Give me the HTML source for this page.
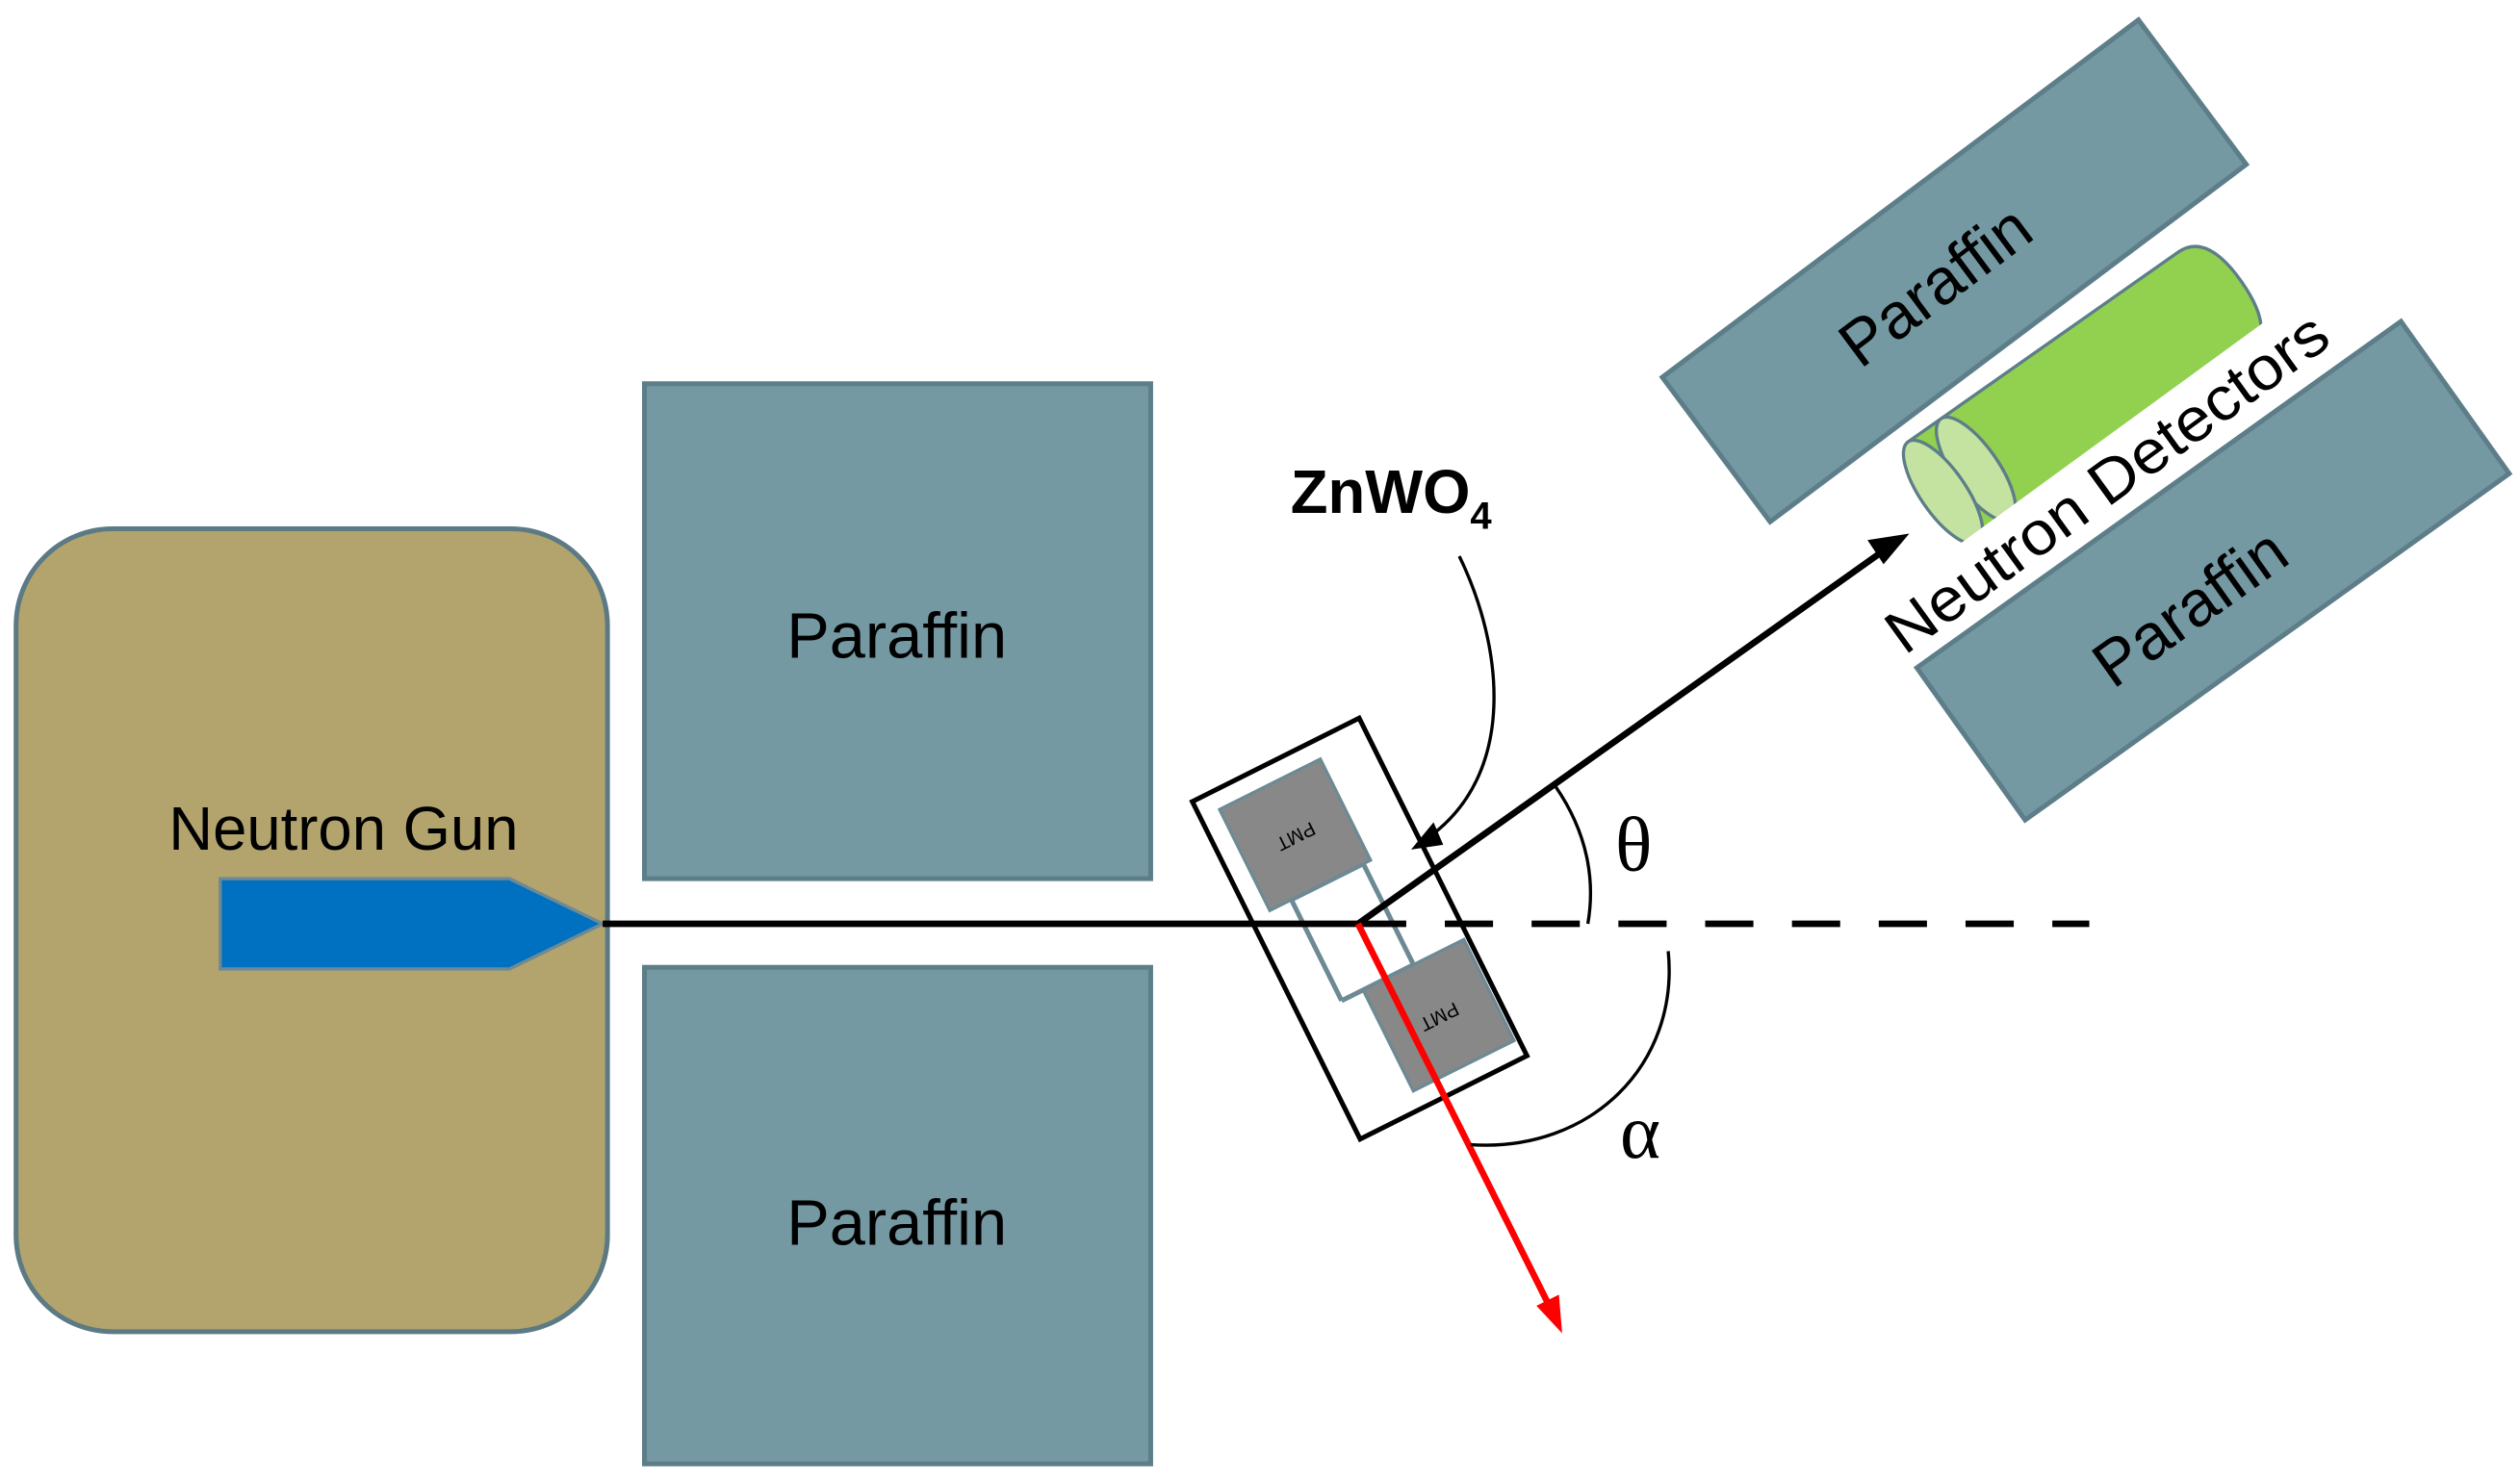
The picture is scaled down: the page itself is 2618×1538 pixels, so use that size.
<!DOCTYPE html>
<html><head><meta charset="utf-8"><style>html,body{margin:0;padding:0;background:#fff}svg{display:block}</style></head><body>
<svg width="2618" height="1538" viewBox="0 0 1568 918" preserveAspectRatio="none" xmlns="http://www.w3.org/2000/svg" font-family="'Liberation Sans', sans-serif">
<rect x="10" y="328" width="368" height="498" rx="60" fill="#b3a46d" stroke="#5b7a84" stroke-width="3"/>
<polygon points="137,545 317,545 375,573 317,601 137,601" fill="#0070c0" stroke="#6d8a94" stroke-width="2"/>
<text x="105" y="527" font-size="38" fill="#000">Neutron Gun</text>
<rect x="401" y="238" width="315" height="307" fill="#7499a3" stroke="#5d7e89" stroke-width="3"/>
<rect x="401" y="600" width="315" height="308" fill="#7499a3" stroke="#5d7e89" stroke-width="3"/>
<text x="558" y="408" font-size="40" text-anchor="middle">Paraffin</text>
<text x="558" y="772" font-size="40" text-anchor="middle">Paraffin</text>
<g transform="translate(846,576) rotate(-26.5)">
<rect x="-58" y="-117" width="116" height="234" fill="#fff" stroke="#000" stroke-width="3"/>
<line x1="-30" y1="-35" x2="-30" y2="35" stroke="#6d8a94" stroke-width="3"/>
<line x1="20" y1="-35" x2="20" y2="35" stroke="#6d8a94" stroke-width="3"/>
<line x1="-30" y1="-35" x2="20" y2="-35" stroke="#6d8a94" stroke-width="3"/>
<line x1="-30" y1="35" x2="20" y2="35" stroke="#6d8a94" stroke-width="3"/>
<rect x="-45" y="-105" width="70" height="70" fill="#888" stroke="#6d8a94" stroke-width="2"/>
<rect x="-15" y="35" width="70" height="70" fill="#888" stroke="#6d8a94" stroke-width="2"/>
<text x="-10" y="-65" font-size="12" text-anchor="middle" transform="rotate(180 -10 -69)">PMT</text>
<text x="20" y="75" font-size="12" text-anchor="middle" transform="rotate(180 20 71)">PMT</text>
</g>
<line x1="375" y1="573" x2="845" y2="573" stroke="#000" stroke-width="4"/>
<line x1="845" y1="573" x2="1300" y2="573" stroke="#000" stroke-width="4" stroke-dasharray="30,24"/>
<line x1="845" y1="573" x2="1170" y2="343" stroke="#000" stroke-width="4"/>
<polygon points="1188,331 1162,335 1172,350" fill="#000"/>
<line x1="845" y1="573" x2="963" y2="808" stroke="#f00" stroke-width="4"/>
<polygon points="972,827 956,810 970,803" fill="#f00"/>
<text x="803" y="318" font-size="38" font-weight="bold">ZnWO<tspan font-size="24" dy="10">4</tspan></text>
<path d="M908,345 C935,400 945,480 888,520" fill="none" stroke="#000" stroke-width="2"/>
<polygon points="878,527 892,510 898,524" fill="#000"/>
<path d="M968,488 C990,520 992,550 988,573" fill="none" stroke="#000" stroke-width="2"/>
<path d="M1038,590 C1045,660 990,715 915,710" fill="none" stroke="#000" stroke-width="2"/>
<text x="1005" y="540" font-size="48" font-family="'Liberation Serif', serif">θ</text>
<text x="1008" y="718" font-size="48" font-family="'Liberation Serif', serif">α</text>
<g transform="translate(1216,168) rotate(-36.8)">
<rect x="-185" y="-56" width="370" height="112" fill="#7499a3" stroke="#5d7e89" stroke-width="3"/>
<text x="-15" y="14" font-size="40" text-anchor="middle">Paraffin</text>
</g>
<g transform="translate(1377,354) rotate(-35.5)">
<rect x="-185" y="-58" width="370" height="116" fill="#7499a3" stroke="#5d7e89" stroke-width="3"/>
<text x="-25" y="24" font-size="40" text-anchor="middle">Paraffin</text>
</g>
<g transform="translate(1295,245) rotate(-35)">
<path d="M-105,-38 L100,-38 Q122,-38 122,0 Q122,38 100,38 L-105,38 Z" fill="#92d050" stroke="#5d7e89" stroke-width="2"/>
<ellipse cx="-80" cy="0" rx="14" ry="38" fill="#c4e3a0" stroke="#5d7e89" stroke-width="2"/>
<ellipse cx="-105" cy="0" rx="14" ry="38" fill="#c4e3a0" stroke="#5d7e89" stroke-width="2"/>
</g>
<g transform="translate(1315,305) rotate(-36)">
<rect x="-170" y="-30" width="340" height="40" fill="#fff"/>
<text x="0" y="6" font-size="38" text-anchor="middle" textLength="330" lengthAdjust="spacingAndGlyphs">Neutron Detectors</text>
</g>
</svg>
</body></html>
